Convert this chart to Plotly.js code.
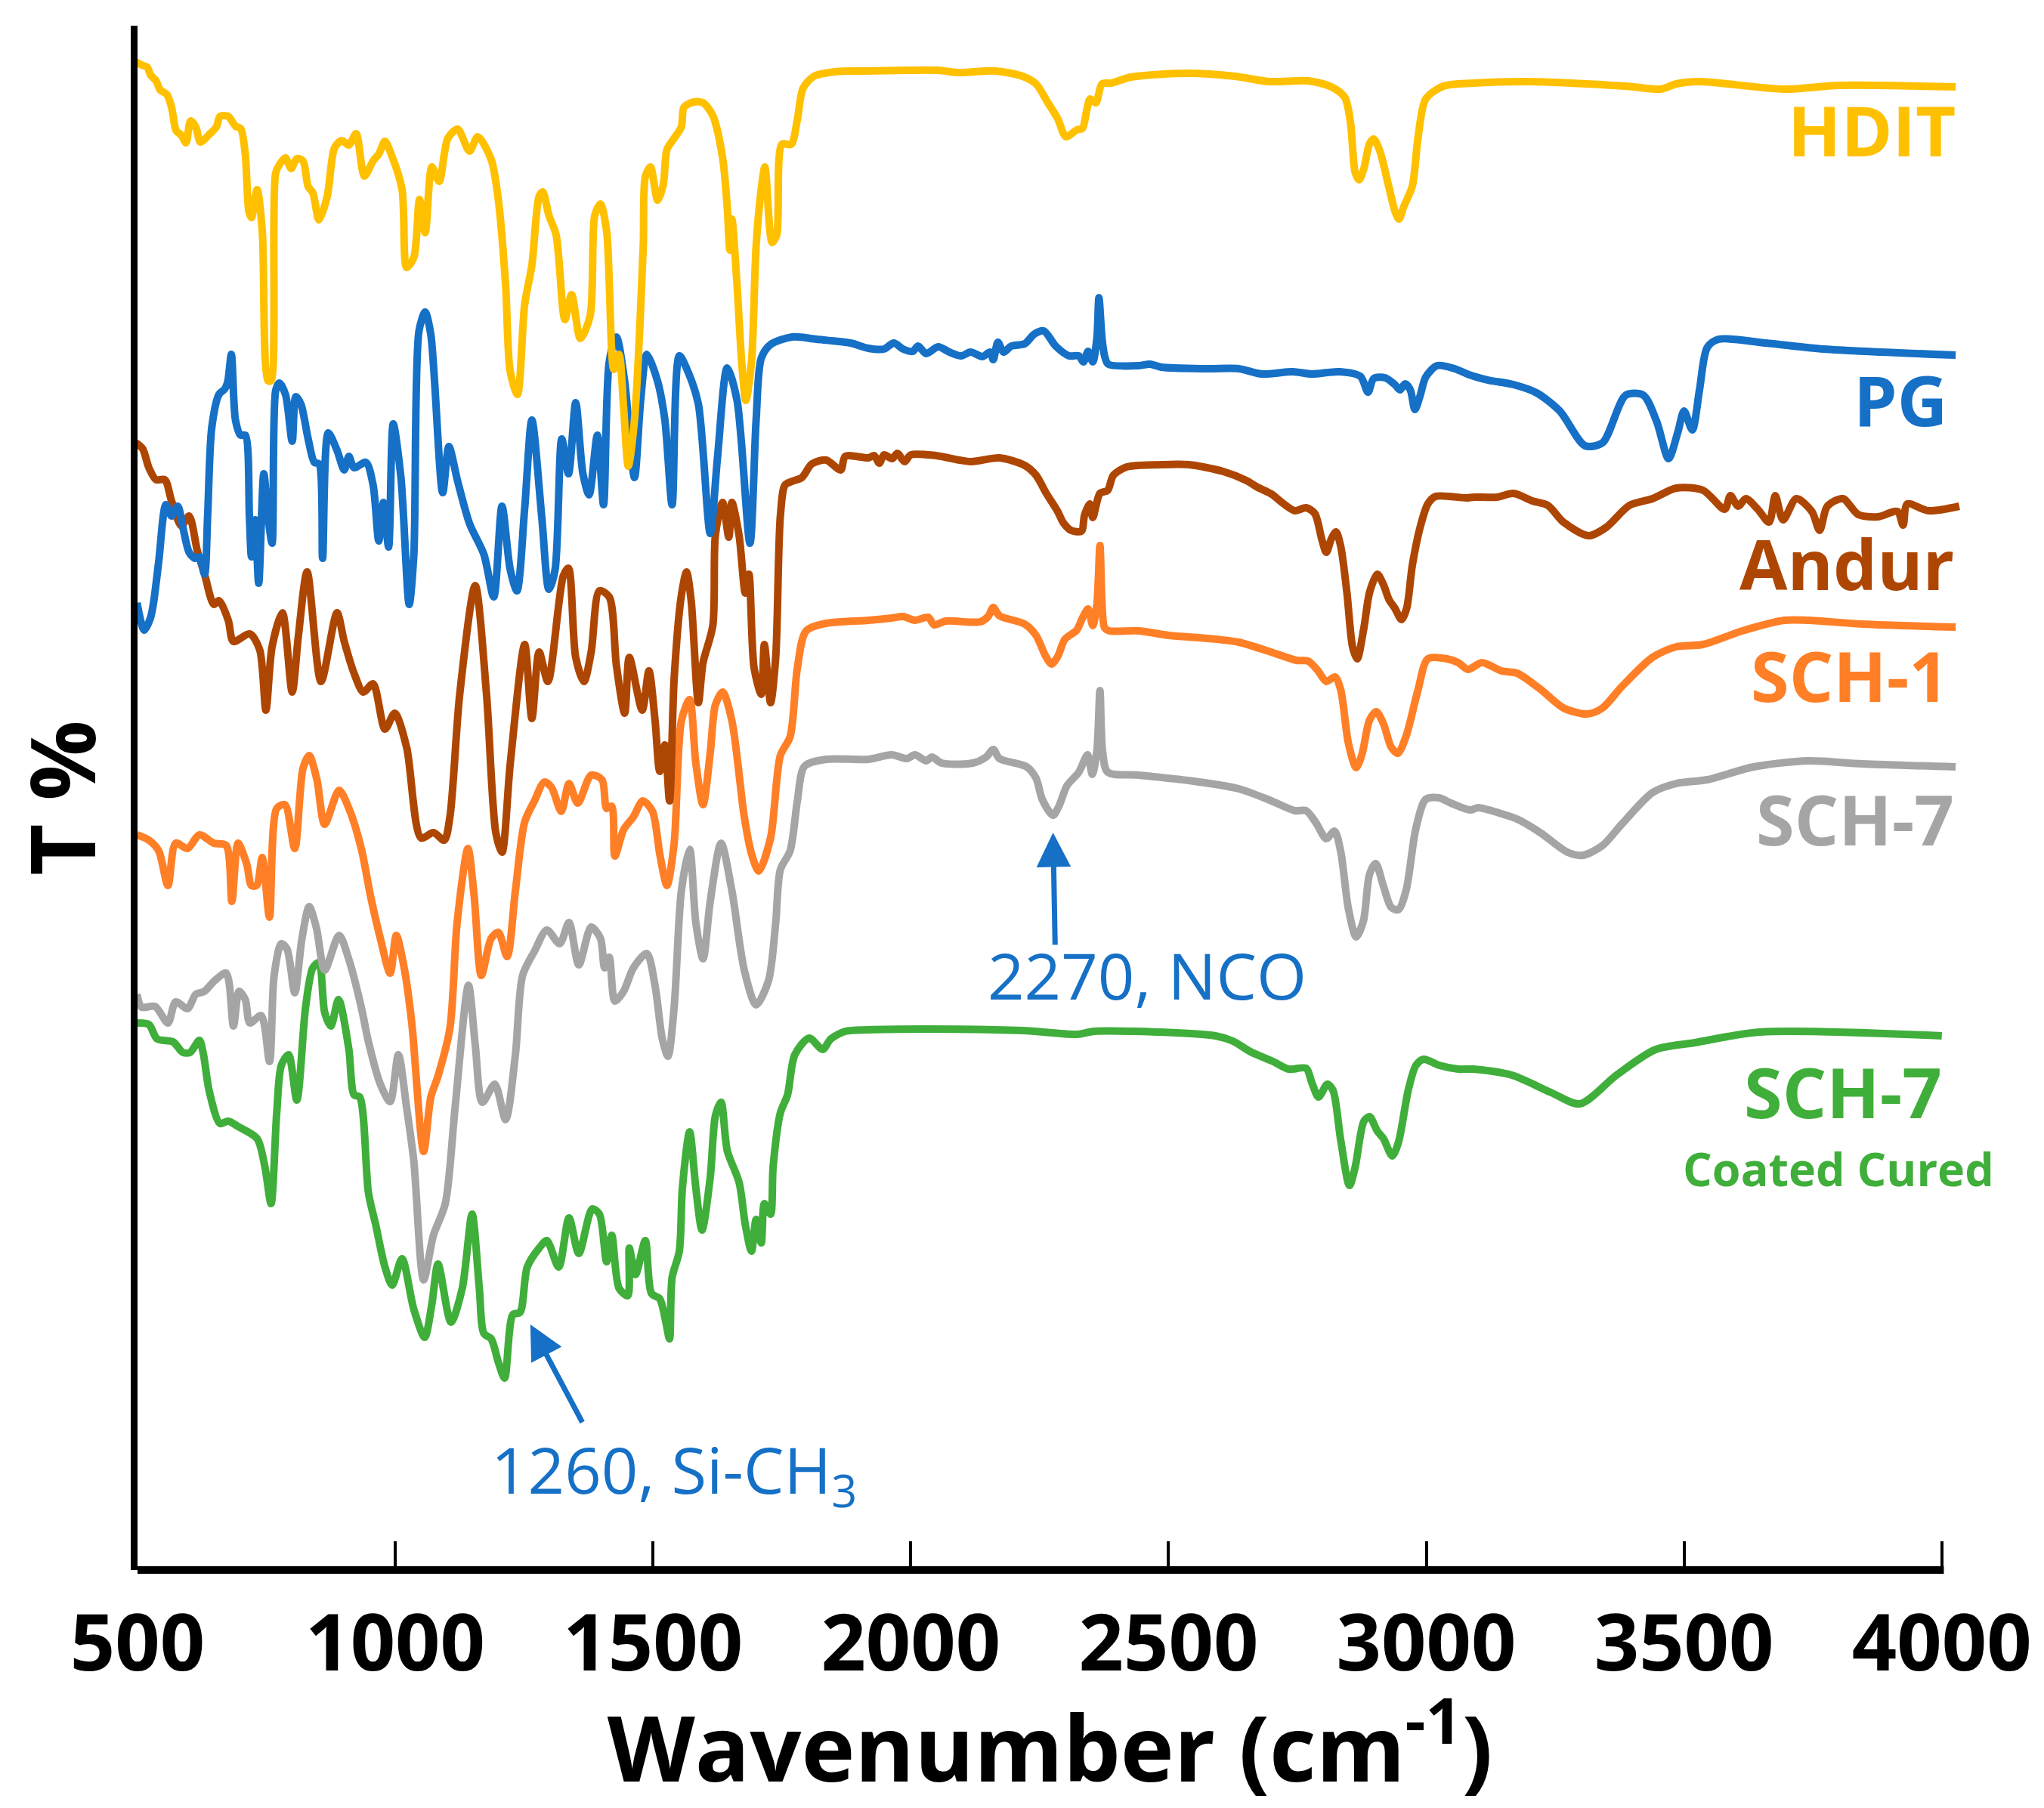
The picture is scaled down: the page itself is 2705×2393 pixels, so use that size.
<!DOCTYPE html>
<html>
<head>
<meta charset="utf-8">
<script src="https://cdn.plot.ly/plotly-3.0.1.min.js"></script>
<style>html,body{margin:0;padding:0;background:#fff}</style>
</head>
<body>
<div id="chart" style="width:2705px;height:2393px"></div>
<script>
// values, T% is in arbitrary offset units (no scale on the axis)
var hdit_x = [497,508,519,525,536,544,557,566,575,585,594,603,613,622,639,653,660,676,690,700,709,716,721,732,742,753,759,768,777,787,798,809,821,831,840,852,868,882,896,910,924,940,957,968,980,992,1013,1022,1036,1047,1058,1071,1085,1102,1121,1144,1160,1186,1200,1214,1223,1237,1251,1265,1279,1286,1298,1312,1329,1342,1359,1378,1387,1398,1410,1424,1434,1443,1452,1464,1481,1485,1495,1509,1520,1527,1541,1555,1560,1579,1597,1616,1635,1644,1649,1653,1663,1672,1680,1691,1700,1710,1717,1731,1740,1750,1768,1780,1791,1812,1854,1911,
  1993,2053,2090,2165,2217,2243,2266,2285,2301,2322,2333,2341,2348,2359,2371,2389,2427,2539,2629,2696,2771,2816,2842,2853,2862,2870,2879,2890,2898,2909,2928,2939,2947,2956,2973,2984,2999,3033,3091,3199,3387,3455,3485,3530,3695,3801,4027];
var hdit_y = [1996,1992,1989,1979,1971,1959,1953,1936,1905,1899,1889,1918,1910,1890,1900,1910,1924,1924,1911,1908,1874,1798,1790,1827,1772,1574,1574,1849,1862,1869,1855,1868,1865,1831,1823,1787,1818,1882,1892,1886,1901,1845,1865,1874,1891,1874,1828,1724,1737,1814,1770,1857,1838,1895,1907,1878,1897,1867,1813,1701,1586,1556,1675,1727,1818,1824,1793,1767,1655,1688,1630,1660,1793,1808,1772,1589,1609,1538,1461,1522,1752,1844,1857,1813,1834,1880,1895,1910,1936,1943,1942,1925,1869,1803,1747,1788,1701,1599,1548,1599,1752,1828,1857,1757,1767,1887,1887,1920,1961,1977,1983,1984,
  1985,1985,1982,1984,1977,1967,1942,1921,1897,1906,1908,1931,1947,1942,1967,1968,1976,1981,1977,1970,1971,1963,1949,1916,1850,1840,1855,1888,1894,1880,1829,1799,1788,1804,1832,1896,1947,1964,1968,1970,1964,1960,1967,1970,1960,1965,1963];

var pg_x = [499,513,525,531,541,555,566,578,588,600,611,620,630,636,644,658,669,675,682,690,700,709,717,721,728,735,745,753,761,768,775,787,800,807,817,831,843,852,859,870,887,901,910,920,943,957,968,977,987,996,1011,1027,1036,1046,1058,1069,1092,1104,1121,1144,1172,1191,1207,1223,1236,1251,1265,1284,1298,1310,1323,1336,1350,1364,1376,1392,1404,1415,1429,1445,1464,1476,1488,1509,1523,1537,1551,1569,1588,1611,1625,1644,1663,1688,1700,1710,1728,1770,1817,1883,1918,
  1948,1967,1985,2004,2014,2030,2053,2075,2098,2116,2139,2154,2160,2169,2180,2195,2221,2240,2258,2281,2307,2326,2335,2344,2353,2361,2365,2371,2376,2383,2442,2464,2486,2576,2636,2681,2741,2778,2831,2872,2887,2898,2920,2939,2949,2959,2969,2978,2988,2999,3021,3055,3083,
  3120,3169,3214,3259,3308,3342,3387,3421,3447,3470,3488,3500,3516,3530,3545,3567,3658,3771,4027];
var pg_y = [1280,1244,1260,1280,1334,1410,1395,1408,1380,1347,1339,1341,1318,1395,1512,1556,1563,1573,1609,1522,1502,1502,1395,1341,1390,1306,1451,1395,1359,1561,1571,1556,1494,1553,1543,1497,1466,1464,1339,1505,1482,1456,1474,1459,1466,1436,1362,1413,1354,1517,1446,1278,1344,1640,1665,1635,1426,1487,1441,1385,1344,1288,1408,1324,1296,1405,1522,1395,1298,1324,1497,1451,1545,1451,1423,1502,1410,1599,1632,1573,1446,1548,1609,1573,1522,1410,1607,1584,1543,1372,1472,1591,1548,1359,1522,1604,1622,1632,1629,1624,1617,
  1616,1624,1616,1613,1620,1610,1619,1612,1607,1612,1606,1612,1602,1625,1612,1620,1623,1636,1640,1620,1607,1607,1599,1613,1599,1630,1684,1630,1607,1596,1594,1596,1592,1590,1590,1583,1586,1583,1586,1580,1559,1577,1578,1569,1562,1570,1562,1536,1554,1579,1594,1590,1582,
  1575,1569,1558,1534,1488,1492,1555,1555,1520,1471,1506,1534,1509,1562,1618,1629,1624,1616,1608];

var andur_x = [497,510,522,536,553,566,585,600,616,630,648,658,676,686,718,737,749,761,781,800,812,829,856,887,901,920,938,957,980,999,1022,1050,1074,1095,1106,1125,1155,1177,1195,1207,1223,1251,1265,1279,1296,1326,1336,1350,1366,1380,1396,1415,1429,1445,1454,1479,1492,1504,1513,1523,1532,1541,1555,1565,1574,1588,1597,1616,1621,1635,1647,1653,1667,1679,1686,1696,1710,1716,1728,1738,1747,1756,1770,1789,1808,1836,1864,1873,1918,
  1929,1939,1948,1964,1974,1988,2000,2049,2116,2172,2221,2243,2262,2285,2296,2311,2331,2337,2347,2353,2367,2382,2393,2419,2486,2539,2606,2651,2673,2700,2718,2745,2767,2784,2797,2806,2816,2825,2834,2846,2857,2866,2879,2890,2905,2917,2928,2939,2952,2962,2973,2988,3003,3018,3077,
  3093,3138,3169,3206,3236,3266,3315,3349,3394,3439,3485,3537,3579,3590,3605,3620,3643,3665,3677,3692,3718,3748,3763,3778,3808,3838,3876,3914,3925,3933,3974,4034];
var andur_y = [1492,1484,1459,1443,1443,1415,1382,1395,1349,1318,1278,1283,1257,1229,1239,1218,1138,1222,1267,1162,1236,1321,1176,1267,1229,1187,1162,1173,1113,1134,1089,969,976,966,997,1159,1303,1159,976,950,1067,1225,1127,1215,1176,1316,1326,1208,1176,1215,1296,1288,1197,1134,1208,1138,1190,1124,1057,1092,1018,1180,1290,1321,1283,1148,1201,1250,1370,1413,1367,1413,1369,1293,1318,1194,1159,1225,1148,1208,1395,1436,1441,1446,1464,1469,1456,1474,1472,
  1475,1465,1476,1471,1478,1467,1476,1475,1467,1472,1462,1449,1426,1401,1386,1376,1375,1396,1411,1393,1425,1429,1449,1460,1463,1463,1454,1442,1433,1424,1414,1402,1406,1398,1365,1347,1365,1374,1355,1294,1222,1206,1247,1294,1318,1304,1284,1273,1258,1273,1330,1380,1411,1421,1419,
  1420,1420,1425,1415,1409,1387,1369,1380,1409,1418,1432,1429,1404,1422,1408,1418,1404,1387,1422,1390,1418,1401,1376,1408,1418,1397,1394,1401,1383,1411,1402,1408];

var sch1_x = [499,522,541,559,574,597,620,648,672,683,695,712,721,731,742,756,770,786,805,821,833,848,863,891,910,934,952,971,990,1002,1018,1032,1055,1069,1083,1106,1120,1141,1153,1167,1186,1200,1217,1233,1251,1270,1289,1303,1322,1337,1354,1380,1401,1410,1420,1426,1443,1462,1480,1499,1513,1527,1541,1555,1571,1583,1597,1611,1621,1635,1653,1677,1691,1705,1728,1747,1766,1780,1797,1836,1918,
  1963,1985,2008,2034,2045,2068,2135,2150,2160,2172,2221,2243,2262,2273,2285,2299,2322,2333,2344,2353,2361,2367,2371,2376,2385,2442,2501,2576,2636,2703,2748,2771,2789,2806,2823,2834,2849,2864,2875,2890,2903,2917,2932,2945,2961,2984,3003,3040,3062,3081,
  3108,3146,3176,3221,3266,3312,3342,3379,3439,3485,3537,3613,3695,3741,3846,4027];
var sch1_y = [973,966,952,906,962,955,973,962,959,885,962,934,906,906,943,864,1008,1013,955,1061,1078,1046,987,1032,1008,955,892,836,790,840,794,724,554,626,654,717,857,955,892,787,836,844,812,899,990,1018,1043,1036,1004,1041,1015,1052,1046,1008,1011,945,980,997,1018,1004,948,906,962,1124,1152,1068,1013,1082,1145,1162,1124,997,948,925,969,1078,1103,1194,1243,1253,1257,
  1260,1262,1257,1261,1251,1256,1255,1262,1274,1263,1252,1237,1209,1199,1209,1232,1244,1260,1272,1250,1278,1356,1278,1247,1243,1243,1237,1233,1228,1214,1204,1203,1191,1176,1182,1165,1094,1062,1079,1125,1136,1120,1089,1081,1104,1165,1206,1206,1201,1192,
  1201,1190,1187,1166,1141,1133,1141,1169,1208,1222,1225,1243,1257,1257,1252,1248];

var sch7_x = [499,508,534,559,574,597,613,630,648,672,686,697,709,718,740,756,765,779,790,805,819,833,847,863,891,910,934,948,971,990,1006,1022,1036,1055,1074,1097,1116,1142,1155,1169,1193,1214,1233,1247,1270,1294,1319,1337,1356,1380,1398,1406,1415,1426,1443,1462,1488,1504,1518,1529,1541,1555,1571,1583,1597,1611,1632,1653,1677,1700,1724,1738,1747,1766,1780,1794,1836,1918,
  1963,1993,2008,2030,2041,2060,2120,2146,2160,2172,2225,2243,2255,2276,2288,2303,2326,2343,2352,2361,2367,2372,2382,2442,2539,2636,2696,2745,2767,2786,2806,2822,2834,2849,2864,2878,2890,2902,2917,2932,2946,2961,2980,2999,3025,3048,3085,
  3101,3146,3176,3221,3274,3304,3342,3379,3439,3485,3545,3635,3741,3846,4027];
var sch7_y = [762,745,746,724,752,743,762,766,779,790,720,766,755,724,734,673,787,829,822,764,836,878,850,794,840,808,745,699,643,620,682,612,541,384,443,485,612,774,696,619,643,596,682,787,819,847,829,857,801,851,836,797,811,753,766,797,816,773,703,680,745,899,954,857,809,885,962,899,794,748,780,857,927,952,1018,1064,1073,1073,
  1079,1074,1079,1071,1076,1068,1068,1076,1086,1074,1063,1048,1020,999,1012,1038,1056,1079,1053,1084,1164,1084,1056,1052,1045,1034,1019,1005,1005,989,968,978,951,875,838,859,921,935,905,877,874,900,982,1020,1022,1015,1006,
  1009,1001,994,976,950,946,959,987,1029,1041,1046,1063,1071,1067,1063];

var coated_x = [499,522,538,569,588,602,620,628,639,660,676,695,732,747,759,770,779,793,809,826,840,852,863,875,890,910,920,931,948,962,980,994,1013,1036,1057,1071,1083,1108,1130,1149,1163,1172,1186,1200,1212,1228,1242,1256,1279,1294,1317,1337,1356,1382,1396,1410,1420,1434,1451,1454,1466,1485,1497,1513,1524,1532,1537,1551,1557,1571,1583,1595,1611,1621,1632,1644,1667,1679,1691,1700,1710,1716,1728,1733,1747,1761,1775,1803,1829,1845,1873,1918,
  2030,2217,2322,2356,2516,2591,2625,2659,2703,2733,2767,2778,2791,2808,2819,2834,2851,2862,2879,2890,2905,2917,2934,2946,2965,2980,2995,3025,3062,3091,
  3166,3242,3298,3369,3445,3521,3647,4000];
var coated_y = [724,722,703,699,685,685,701,682,634,591,594,587,571,534,485,605,668,682,622,745,797,804,738,720,755,689,629,626,499,457,401,377,412,345,308,352,405,328,373,471,373,313,306,275,254,338,341,401,426,436,401,466,419,478,471,408,443,373,363,426,391,436,366,359,331,306,387,422,506,580,506,450,520,601,619,555,513,457,422,464,433,485,471,534,605,629,682,704,689,703,713,715,
  716,714,709,713,711,707,700,686,673,663,664,645,626,643,635,569,509,533,594,600,581,571,548,566,635,668,676,668,663,663,
  655,632,617,655,689,698,712,707];

var series_names = ['HDIT', 'PG', 'Andur', 'SCH-1', 'SCH-7', 'SCH-7 Coated Cured'];
var series_colors = ['#FFC000', '#1570C6', '#AE4603', '#FF7F27', '#A5A5A5', '#40AE3A'];
var tick_vals = [500, 1000, 1500, 2000, 2500, 3000, 3500, 4000];
var blue = '#1570C6';

var xs = [coated_x, sch7_x, sch1_x, andur_x, pg_x, hdit_x];
var ys = [coated_y, sch7_y, sch1_y, andur_y, pg_y, hdit_y];
var order = [5, 4, 3, 2, 1, 0]; // HDIT ends up on top, like the picture

var data = order.map(function (k, i) {
  return {
    x: xs[i],
    y: ys[i],
    name: series_names[k],
    mode: 'lines',
    type: 'scatter',
    line: { color: series_colors[k], width: 10, shape: 'spline', smoothing: 0.8 }
  };
});

function label(text, x, y, color, size, anchor) {
  return {
    text: text, x: x, y: y, xref: 'x', yref: 'y', showarrow: false,
    xanchor: anchor || 'right', yanchor: 'middle',
    font: { family: 'Open Sans', size: size, color: color, weight: 700 }
  };
}

function arrow(x, y, ax, ay) {
  return {
    text: '', x: x, y: y, ax: ax, ay: ay, xref: 'x', yref: 'y', axref: 'x', ayref: 'y',
    showarrow: true, arrowhead: 2, arrowsize: 1.3, arrowwidth: 7, arrowcolor: blue
  };
}

var note_font = { family: 'Open Sans', size: 85, color: blue };

var layout = {
  width: 2705,
  height: 2393,
  margin: { l: 182, r: 108, t: 34, b: 315 },
  paper_bgcolor: '#fff',
  plot_bgcolor: '#fff',
  showlegend: false,
  xaxis: {
    range: [500, 4040], // spectra run a little past the last tick
    tickvals: tick_vals,
    ticktext: tick_vals.map(String),
    ticks: 'inside',
    ticklen: 38,
    tickwidth: 4,
    tickcolor: '#000',
    ticklabelstandoff: 28,
    tickfont: { family: 'Open Sans', size: 104, color: '#000', weight: 700 },
    showgrid: false,
    zeroline: false,
    showline: false,
    title: {
      text: 'Wavenumber (cm<sup>-1</sup>)',
      standoff: 5,
      font: { family: 'Open Sans', size: 120, color: '#000', weight: 700 }
    }
  },
  yaxis: {
    range: [0, 2044],
    showticklabels: false,
    ticks: '',
    showgrid: false,
    zeroline: false,
    showline: true,
    linecolor: '#000',
    linewidth: 9,
    title: {
      text: 'T %',
      standoff: 17,
      font: { family: 'Open Sans', size: 118, color: '#000', weight: 700 }
    }
  },
  // bottom axis stops at 4000 while the data goes on
  shapes: [
    { type: 'line', xref: 'x', yref: 'paper', x0: 487, x1: 4004, y0: 0, y1: 0, line: { color: '#000', width: 10 } }
  ],
  annotations: [
    label('HDIT', 4030, 1907, '#FFC000', 92),
    label('PG', 4014, 1550, blue, 92),
    label('Andur', 4027, 1333, '#AE4603', 92),
    label('SCH-1', 4016, 1185, '#FF7F27', 92),
    label('SCH-7', 4027, 995, '#A5A5A5', 92),
    label('SCH-7', 4004, 634, '#40AE3A', 92),
    label('Coated Cured', 3495, 532, '#40AE3A', 61, 'left'),
    arrow(2276, 976, 2280, 826),
    arrow(1262, 325, 1364, 194),
    { text: '2270, NCO', x: 2458, y: 788, xref: 'x', yref: 'y', showarrow: false, font: note_font },
    { text: '1260, Si-CH<sub>3</sub>', x: 1183, y: 129, xref: 'x', yref: 'y', xanchor: 'left', showarrow: false, font: note_font }
  ]
};

Plotly.newPlot('chart', data, layout, { displayModeBar: false });
</script>
</body>
</html>
